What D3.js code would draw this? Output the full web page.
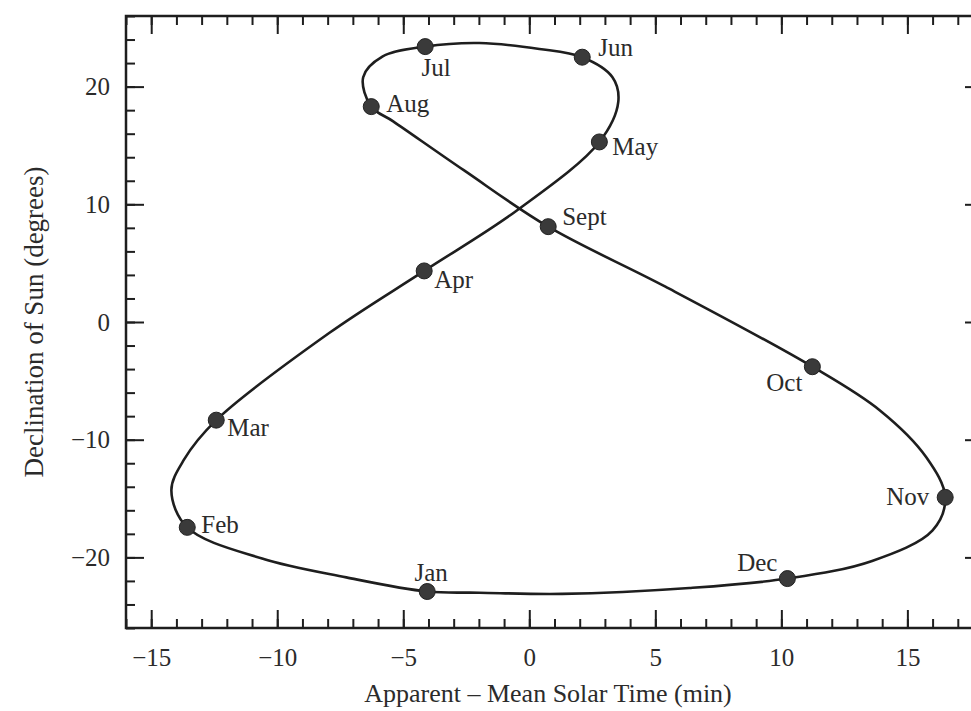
<!DOCTYPE html>
<html>
<head>
<meta charset="utf-8">
<script src="https://cdn.jsdelivr.net/npm/d3@7"></script>
<style>
  html, body { margin: 0; padding: 0; background: #fff; }
  svg { display: block; }
  text { font-family: "Liberation Serif", "DejaVu Serif", serif; fill: #2b2b2b; }
</style>
</head>
<body>
<div id="chart"></div>
<script>
// monthly markers (1st of month)
const months = ['Jan', 'Feb', 'Mar', 'Apr', 'May', 'Jun', 'Jul', 'Aug', 'Sept', 'Oct', 'Nov', 'Dec'];
const monthEot = [-4.05, -13.57, -12.42, -4.17, 2.78, 2.1, -4.13, -6.27, 0.75, 11.23, 16.5, 10.24];
const monthDecl = [-22.9, -17.45, -8.34, 4.34, 15.3, 22.5, 23.4, 18.3, 8.1, -3.8, -14.9, -21.8];

// points, in date order (closed loop)
const traceEot = [-4.05, -7.26, -10.6, -13.57, -14.2, -13.7, -12.42, -7.94, -4.17, -0.48, 2.78, 3.53, 3.3, 2.1, 0.4, -1.98,
  -4.13, -5.83, -6.59, -6.27, -5.4, -2.6, 0.75, 5.4, 11.23, 13.9, 15.75, 16.5, 16.0, 13.6, 10.24, 6.35, 1.3, -1.98];
const traceDecl = [-22.9, -21.7, -20.1, -17.45, -14.3, -11.7, -8.34, -0.94, 4.34, 9.5, 15.3, 18.7, 20.8, 22.5, 23.2, 23.7,
  23.4, 22.55, 20.8, 18.3, 17.05, 12.9, 8.1, 3.0, -3.8, -7.5, -11.5, -14.9, -17.7, -20.3, -21.8, -22.6, -23.1, -23.0];

// axis ticks
const xMajor = [-15, -10, -5, 0, 5, 10, 15];
const xMinor = d3.range(-16, 19, 1);
const yMajor = [-20, -10, 0, 10, 20];
const yMinor = d3.range(-26, 27, 2);

// label placement next to each marker
const labelPos = {
  Jan: { dx: 4, dy: -11, anchor: 'middle' },
  Feb: { dx: 14, dy: 6, anchor: 'start' },
  Mar: { dx: 11, dy: 16, anchor: 'start' },
  Apr: { dx: 10, dy: 17, anchor: 'start' },
  May: { dx: 13, dy: 13, anchor: 'start' },
  Jun: { dx: 16, dy: -1, anchor: 'start' },
  Jul: { dx: 11, dy: 29, anchor: 'middle' },
  Aug: { dx: 15, dy: 5, anchor: 'start' },
  Sept: { dx: 14, dy: -2, anchor: 'start' },
  Oct: { dx: -10, dy: 24, anchor: 'end' },
  Nov: { dx: -16, dy: 8, anchor: 'end' },
  Dec: { dx: -10, dy: -8, anchor: 'end' }
};

const W = 971, H = 711;
const x = d3.scaleLinear().domain([-16, 18]).range([126, 983]);
const y = d3.scaleLinear().domain([-26, 26]).range([628, 16]);

const svg = d3.select('#chart').append('svg')
  .attr('width', W)
  .attr('height', H);

const ink = '#1e1e1e';
const fontSize = 25;

// frame
svg.append('rect')
  .attr('x', x(-16)).attr('y', y(26))
  .attr('width', x(18) - x(-16)).attr('height', y(-26) - y(26))
  .attr('fill', 'none').attr('stroke', ink).attr('stroke-width', 2.5);

function styleAxis(g) {
  g.select('.domain').remove();
  g.selectAll('.tick line').attr('stroke', ink).attr('stroke-width', 2);
  g.selectAll('.tick text')
    .style('font-size', fontSize + 'px')
    .attr('fill', '#2b2b2b');
}

// minor ticks on all sides
svg.append('g').attr('transform', `translate(0,${y(-26)})`)
  .call(d3.axisBottom(x).tickValues(xMinor).tickSize(-9).tickFormat(''))
  .call(styleAxis);
svg.append('g').attr('transform', `translate(0,${y(26)})`)
  .call(d3.axisTop(x).tickValues(xMinor).tickSize(-9).tickFormat(''))
  .call(styleAxis);
svg.append('g').attr('transform', `translate(${x(-16)},0)`)
  .call(d3.axisLeft(y).tickValues(yMinor).tickSize(-9).tickFormat(''))
  .call(styleAxis);
svg.append('g').attr('transform', `translate(${x(18)},0)`)
  .call(d3.axisRight(y).tickValues(yMinor).tickSize(-9).tickFormat(''))
  .call(styleAxis);

// major ticks with labels
svg.append('g').attr('transform', `translate(0,${y(-26)})`)
  .call(d3.axisBottom(x).tickValues(xMajor).tickSize(-18).tickPadding(20).tickFormat(d3.format('d')))
  .call(styleAxis);
svg.append('g').attr('transform', `translate(0,${y(26)})`)
  .call(d3.axisTop(x).tickValues(xMajor).tickSize(-18).tickFormat(''))
  .call(styleAxis);
svg.append('g').attr('transform', `translate(${x(-16)},0)`)
  .call(d3.axisLeft(y).tickValues(yMajor).tickSize(-18).tickPadding(16).tickFormat(d3.format('d')))
  .call(styleAxis);
svg.append('g').attr('transform', `translate(${x(18)},0)`)
  .call(d3.axisRight(y).tickValues(yMajor).tickSize(-18).tickFormat(''))
  .call(styleAxis);

// axis titles
svg.append('text')
  .attr('x', 548).attr('y', 702)
  .attr('text-anchor', 'middle')
  .style('font-size', '26px')
  .text('Apparent \u2013 Mean Solar Time (min)');

svg.append('text')
  .attr('transform', `translate(43,${y(0)}) rotate(-90)`)
  .attr('text-anchor', 'middle')
  .style('font-size', '27px')
  .text('Declination of Sun (degrees)');

// analemma curve
const trace = traceEot.map((d, i) => [d, traceDecl[i]]);
svg.append('path')
  .datum(trace)
  .attr('fill', 'none')
  .attr('stroke', ink)
  .attr('stroke-width', 2.6)
  .attr('d', d3.line()
    .x(d => x(d[0]))
    .y(d => y(d[1]))
    .curve(d3.curveCatmullRomClosed.alpha(0.5)));

// month markers
svg.selectAll('circle.month')
  .data(months)
  .enter()
  .append('circle')
  .attr('class', 'month')
  .attr('cx', (d, i) => x(monthEot[i]))
  .attr('cy', (d, i) => y(monthDecl[i]))
  .attr('r', 8)
  .attr('fill', '#3a3a3a')
  .attr('stroke', '#222')
  .attr('stroke-width', 1);

svg.selectAll('text.month')
  .data(months)
  .enter()
  .append('text')
  .attr('class', 'month')
  .attr('x', (d, i) => x(monthEot[i]) + labelPos[d].dx)
  .attr('y', (d, i) => y(monthDecl[i]) + labelPos[d].dy)
  .attr('text-anchor', d => labelPos[d].anchor)
  .style('font-size', fontSize + 'px')
  .text(d => d);
</script>
</body>
</html>
